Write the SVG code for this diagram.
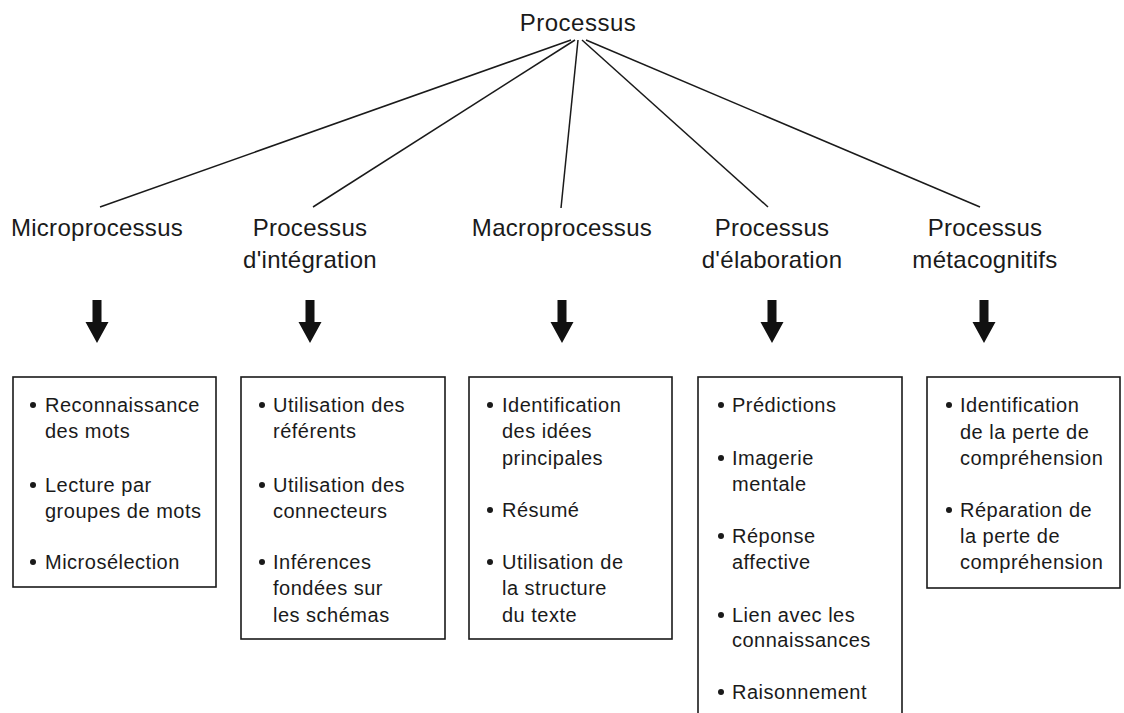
<svg xmlns="http://www.w3.org/2000/svg" width="1124" height="713" viewBox="0 0 1124 713">
<defs>
<style>
.t{font-family:"Liberation Sans",Arial,sans-serif;fill:#1a1a1a}
.top{font-size:24px;letter-spacing:0.5px;text-anchor:middle}
.h{font-size:24px;letter-spacing:0.3px;text-anchor:middle}
.b{font-size:20px;letter-spacing:0.5px}
.box{fill:none;stroke:#1a1a1a;stroke-width:1.6}
.ln{stroke:#1a1a1a;stroke-width:1.5;fill:none}
.ar{fill:#111}
.dot{fill:#1a1a1a}
</style>
<path id="arrow" d="M-4.5,0 H4.5 V22 H11.5 L0,43 L-11.5,22 H-4.5 Z"/>
</defs>
<rect width="1124" height="713" fill="#fff"/>

<g id="root"><text class="t top" x="578" y="31">Processus</text></g>

<g id="connectors">
<line class="ln" x1="571" y1="40" x2="100" y2="207"/>
<line class="ln" x1="575" y1="40" x2="313" y2="207"/>
<line class="ln" x1="578" y1="40" x2="561" y2="208"/>
<line class="ln" x1="582" y1="40" x2="768" y2="207"/>
<line class="ln" x1="586" y1="40" x2="980" y2="207"/>
<use href="#arrow" class="ar" x="97" y="300"/>
<use href="#arrow" class="ar" x="310" y="300"/>
<use href="#arrow" class="ar" x="562" y="300"/>
<use href="#arrow" class="ar" x="772" y="300"/>
<use href="#arrow" class="ar" x="984" y="300"/>
</g>

<g id="micro">
<text class="t h" x="97" y="236">Microprocessus</text>
<rect class="box" x="13" y="377" width="203" height="210"/>
<circle class="dot" cx="33" cy="405" r="3"/>
<text class="t b" x="45" y="412">Reconnaissance</text>
<text class="t b" x="45" y="438">des mots</text>
<circle class="dot" cx="33" cy="485" r="3"/>
<text class="t b" x="45" y="492">Lecture par</text>
<text class="t b" x="45" y="518">groupes de mots</text>
<circle class="dot" cx="33" cy="562" r="3"/>
<text class="t b" x="45" y="569">Microsélection</text>
</g>

<g id="integration">
<text class="t h" x="310" y="236">Processus</text>
<text class="t h" x="310" y="268">d'intégration</text>
<rect class="box" x="241" y="377" width="204" height="262"/>
<circle class="dot" cx="262" cy="405" r="3"/>
<text class="t b" x="273" y="412">Utilisation des</text>
<text class="t b" x="273" y="438">référents</text>
<circle class="dot" cx="262" cy="485" r="3"/>
<text class="t b" x="273" y="492">Utilisation des</text>
<text class="t b" x="273" y="518">connecteurs</text>
<circle class="dot" cx="262" cy="562" r="3"/>
<text class="t b" x="273" y="569">Inférences</text>
<text class="t b" x="273" y="595">fondées sur</text>
<text class="t b" x="273" y="622">les schémas</text>
</g>

<g id="macro">
<text class="t h" x="562" y="236">Macroprocessus</text>
<rect class="box" x="469" y="377" width="203" height="262"/>
<circle class="dot" cx="490" cy="405" r="3"/>
<text class="t b" x="502" y="412">Identification</text>
<text class="t b" x="502" y="438">des idées</text>
<text class="t b" x="502" y="465">principales</text>
<circle class="dot" cx="490" cy="510" r="3"/>
<text class="t b" x="502" y="517">Résumé</text>
<circle class="dot" cx="490" cy="562" r="3"/>
<text class="t b" x="502" y="569">Utilisation de</text>
<text class="t b" x="502" y="595">la structure</text>
<text class="t b" x="502" y="622">du texte</text>
</g>

<g id="elaboration">
<text class="t h" x="772" y="236">Processus</text>
<text class="t h" x="772" y="268">d'élaboration</text>
<rect class="box" x="698" y="377" width="204" height="360"/>
<circle class="dot" cx="721" cy="405" r="3"/>
<text class="t b" x="732" y="412">Prédictions</text>
<circle class="dot" cx="721" cy="458" r="3"/>
<text class="t b" x="732" y="465">Imagerie</text>
<text class="t b" x="732" y="491">mentale</text>
<circle class="dot" cx="721" cy="536" r="3"/>
<text class="t b" x="732" y="543">Réponse</text>
<text class="t b" x="732" y="569">affective</text>
<circle class="dot" cx="721" cy="615" r="3"/>
<text class="t b" x="732" y="622">Lien avec les</text>
<text class="t b" x="732" y="647">connaissances</text>
<circle class="dot" cx="721" cy="692" r="3"/>
<text class="t b" x="732" y="699">Raisonnement</text>
</g>

<g id="metacognitifs">
<text class="t h" x="985" y="236">Processus</text>
<text class="t h" x="985" y="268">métacognitifs</text>
<rect class="box" x="927" y="377" width="193" height="211"/>
<circle class="dot" cx="949" cy="405" r="3"/>
<text class="t b" x="960" y="412">Identification</text>
<text class="t b" x="960" y="439">de la perte de</text>
<text class="t b" x="960" y="465">compréhension</text>
<circle class="dot" cx="949" cy="510" r="3"/>
<text class="t b" x="960" y="517">Réparation de</text>
<text class="t b" x="960" y="543">la perte de</text>
<text class="t b" x="960" y="569">compréhension</text>
</g>
</svg>
